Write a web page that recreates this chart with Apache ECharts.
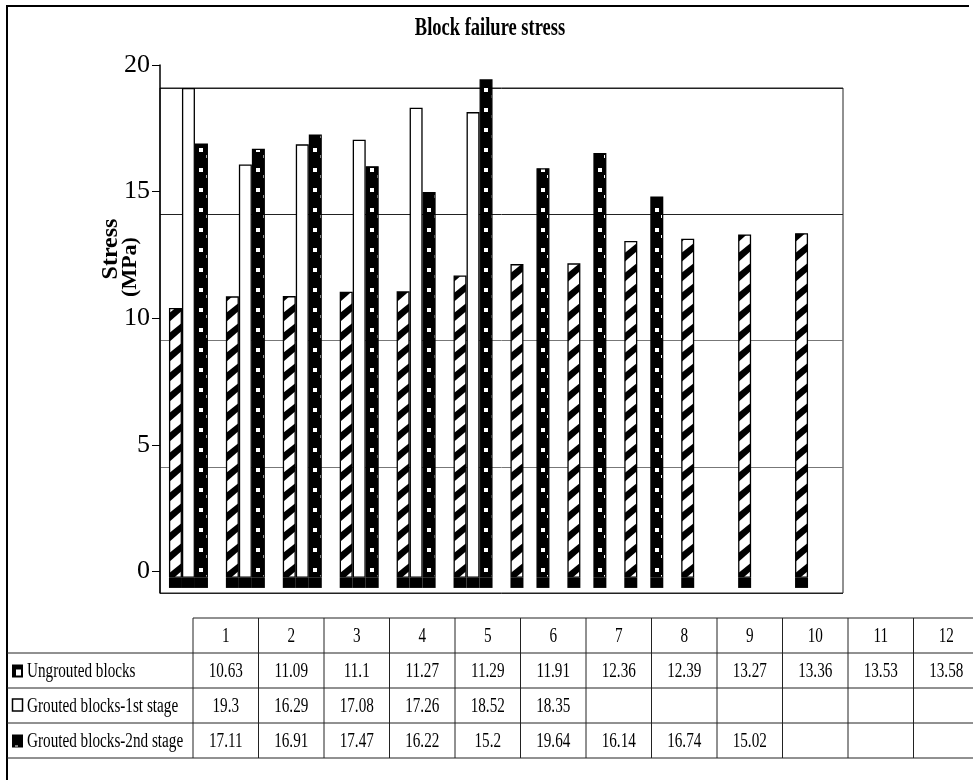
<!DOCTYPE html>
<html><head><meta charset="utf-8">
<script src="https://cdn.jsdelivr.net/npm/echarts@6/dist/echarts.min.js"></script>
<style>html,body{margin:0;padding:0;background:#fff}#c{width:973px;height:780px}</style>
</head><body><div id="c"></div>
<script>
// ---------------- data ----------------
const title = 'Block failure stress';
const yNameLines = ['Stress', '(MPa)'];
const categories = ['1','2','3','4','5','6','7','8','9','10','11','12'];
const seriesNames = ['Ungrouted blocks', 'Grouted blocks-1st stage', 'Grouted blocks-2nd stage'];
const ungrouted = [10.63, 11.09, 11.1, 11.27, 11.29, 11.91, 12.36, 12.39, 13.27, 13.36, 13.53, 13.58];
const grouted1 = [19.3, 16.29, 17.08, 17.26, 18.52, 18.35, null, null, null, null, null, null];
const grouted2 = [17.11, 16.91, 17.47, 16.22, 15.2, 19.64, 16.14, 16.74, 15.02, null, null, null];
const yTicks = [0, 5, 10, 15, 20];

// ---------------- layout / style ----------------
const PLOT_L = 160, PLOT_R = 843, PLOT_T = 88, PLOT_B = 593;
const BAR_W = 13;
const BASE = 0.4; // decorative black floor under every bar
const FONT = '"Liberation Serif", "Times New Roman", serif';
const n = categories.length;
const bandW = (PLOT_R - PLOT_L) / n;
function barX(i, k) { return PLOT_L + (i + 0.5) * bandW - 1.5 * BAR_W + k * BAR_W; }

function makeHatch() {
  const c = document.createElement('canvas'); c.width = 900; c.height = 20;
  const ctx = c.getContext('2d');
  ctx.fillStyle = '#fff'; ctx.fillRect(0, 0, 900, 20);
  ctx.fillStyle = '#000';
  for (let i = 0; i < n; i++) {
    const x0 = barX(i, 0);
    ctx.save(); ctx.beginPath(); ctx.rect(x0, 0, BAR_W, 20); ctx.clip();
    for (const o of [-20, 0, 20]) {
      ctx.beginPath();
      ctx.moveTo(x0 - 1, 14 + o); ctx.lineTo(x0 + 14, 2 + o);
      ctx.lineTo(x0 + 14, 10 + o); ctx.lineTo(x0 - 1, 23 + o);
      ctx.closePath(); ctx.fill();
    }
    ctx.restore();
  }
  return c;
}
function makeDots() {
  const c = document.createElement('canvas'); c.width = 900; c.height = 20;
  const ctx = c.getContext('2d');
  ctx.fillStyle = '#000'; ctx.fillRect(0, 0, 900, 20);
  ctx.fillStyle = '#fff';
  for (let i = 0; i < n; i++) {
    const x2 = barX(i, 2);
    ctx.fillRect(Math.round(x2 + 4.5), 8, 4, 4);
    ctx.fillRect(Math.round(x2 + 11), 15, 1, 3);
  }
  return c;
}
const hatch = { image: makeHatch(), repeat: 'repeat' };
const dots = { image: makeDots(), repeat: 'repeat' };

function baseOf(arr) { return arr.map(v => v == null ? null : -BASE); }

const barCommon = { type: 'bar', xAxisIndex: 0, yAxisIndex: 0, barWidth: BAR_W, barGap: '0%', clip: false, silent: true };
const series = [
  Object.assign({}, barCommon, { name: seriesNames[0], stack: 'a', data: ungrouted, itemStyle: { color: hatch, borderColor: '#000', borderWidth: 1.3 } }),
  Object.assign({}, barCommon, { name: seriesNames[1], stack: 'b', data: grouted1, itemStyle: { color: '#fff', borderColor: '#000', borderWidth: 1.3 } }),
  Object.assign({}, barCommon, { name: seriesNames[2], stack: 'c', data: grouted2, itemStyle: { color: dots, borderColor: '#000', borderWidth: 1.3 } }),
  Object.assign({}, barCommon, { name: 'baseA', stack: 'a', data: baseOf(ungrouted), itemStyle: { color: '#000' } }),
  Object.assign({}, barCommon, { name: 'baseB', stack: 'b', data: baseOf(grouted1), itemStyle: { color: '#000' } }),
  Object.assign({}, barCommon, { name: 'baseC', stack: 'c', data: baseOf(grouted2), itemStyle: { color: '#000' } })
];

// ---------------- graphic: frame, title, axis name, table ----------------
const g = [];
const LINE = '#222';
g.push({ type: 'line', shape: { x1: 6, y1: 6, x2: 969, y2: 6 }, style: { stroke: '#000', lineWidth: 2 } });
g.push({ type: 'line', shape: { x1: 7, y1: 6, x2: 7, y2: 780 }, style: { stroke: '#000', lineWidth: 2 } });
g.push({ type: 'text', x: 490, y: 29, scaleX: 0.74, style: { text: title, font: 'bold 25px ' + FONT, fill: '#000', align: 'center', verticalAlign: 'middle' } });
g.push({ type: 'text', x: 111, y: 249, rotation: Math.PI / 2, style: { text: yNameLines[0], font: 'bold 24px ' + FONT, fill: '#000', align: 'center', verticalAlign: 'middle' } });
g.push({ type: 'text', x: 130, y: 267, rotation: Math.PI / 2, style: { text: yNameLines[1], font: 'bold 22px ' + FONT, fill: '#000', align: 'center', verticalAlign: 'middle' } });

const T_TOP = 618, ROW_H = 35, COL0 = 193, COL_W = 65.5, LBL_X = 27;
g.push({ type: 'line', shape: { x1: COL0, y1: T_TOP, x2: 973, y2: T_TOP }, style: { stroke: LINE, lineWidth: 1 } });
for (let r = 1; r <= 4; r++) {
  const y = T_TOP + r * ROW_H;
  g.push({ type: 'line', shape: { x1: 7, y1: y, x2: 973, y2: y }, style: { stroke: LINE, lineWidth: 1 } });
}
for (let j = 0; j <= n; j++) {
  const x = COL0 + j * COL_W;
  g.push({ type: 'line', shape: { x1: x, y1: T_TOP, x2: x, y2: T_TOP + 4 * ROW_H }, style: { stroke: LINE, lineWidth: 1 } });
}
function cellText(txt, x, y, align) {
  g.push({ type: 'text', x: x, y: y, scaleX: 0.76, style: { text: txt, font: '20px ' + FONT, fill: '#000', align: align, verticalAlign: 'middle' } });
}
categories.forEach((c, j) => cellText(c, COL0 + (j + 0.5) * COL_W, T_TOP + ROW_H / 2 + 1, 'center'));
[ungrouted, grouted1, grouted2].forEach((arr, r) => {
  const yc = T_TOP + (r + 1.5) * ROW_H + 1;
  cellText(seriesNames[r], LBL_X, yc, 'left');
  arr.forEach((v, j) => { if (v != null) cellText(String(v), COL0 + (j + 0.5) * COL_W, yc, 'center'); });
});
// legend keys
const k1 = T_TOP + 1.5 * ROW_H, k2 = T_TOP + 2.5 * ROW_H, k3 = T_TOP + 3.5 * ROW_H;
g.push({ type: 'rect', shape: { x: 12, y: k1 - 6, width: 11, height: 13 }, style: { fill: '#000' } });
g.push({ type: 'rect', shape: { x: 16, y: k1 - 1, width: 5, height: 6 }, style: { fill: '#fff' } });
g.push({ type: 'rect', shape: { x: 12.5, y: k2 - 6.5, width: 10, height: 12 }, style: { fill: '#fff', stroke: '#000', lineWidth: 1.5 } });
g.push({ type: 'rect', shape: { x: 12, y: k3 - 6, width: 11, height: 13 }, style: { fill: '#000' } });
g.push({ type: 'rect', shape: { x: 15, y: k3 + 5, width: 3, height: 1 }, style: { fill: '#fff' } });

// ---------------- option ----------------
const option = {
  animation: false,
  backgroundColor: '#fff',
  grid: [
    { left: PLOT_L, top: PLOT_T, width: PLOT_R - PLOT_L, height: PLOT_B - PLOT_T, show: true, borderColor: '#222', borderWidth: 1, backgroundColor: 'transparent', z: 0 },
    { left: PLOT_L, top: 65, width: PLOT_R - PLOT_L, height: PLOT_B - 65, show: false }
  ],
  xAxis: [
    { type: 'category', gridIndex: 0, data: categories, show: false },
    { type: 'category', gridIndex: 1, data: categories, show: false }
  ],
  yAxis: [
    { type: 'value', gridIndex: 0, min: -0.6, max: 19.3, show: false },
    { type: 'value', gridIndex: 0, min: 0, max: 4, interval: 1, axisLine: { show: false }, axisTick: { show: false }, axisLabel: { show: false },
      splitLine: { show: true, lineStyle: { color: ['#222', '#777', '#777', '#222', '#222'], width: 1 } } },
    { type: 'value', gridIndex: 1, min: -0.85, max: 20, position: 'left',
      axisLine: { show: true, lineStyle: { color: '#000', width: 1.5 } },
      axisTick: { show: true, length: 8, customValues: yTicks, lineStyle: { color: '#000', width: 1 } },
      axisLabel: { show: true, customValues: yTicks, fontSize: 26, fontFamily: FONT, color: '#000', margin: 10 },
      splitLine: { show: false } }
  ],
  series: series,
  graphic: { elements: g }
};
const chart = echarts.init(document.getElementById('c'), null, { renderer: 'canvas' });
chart.setOption(option);
</script>
</body></html>
